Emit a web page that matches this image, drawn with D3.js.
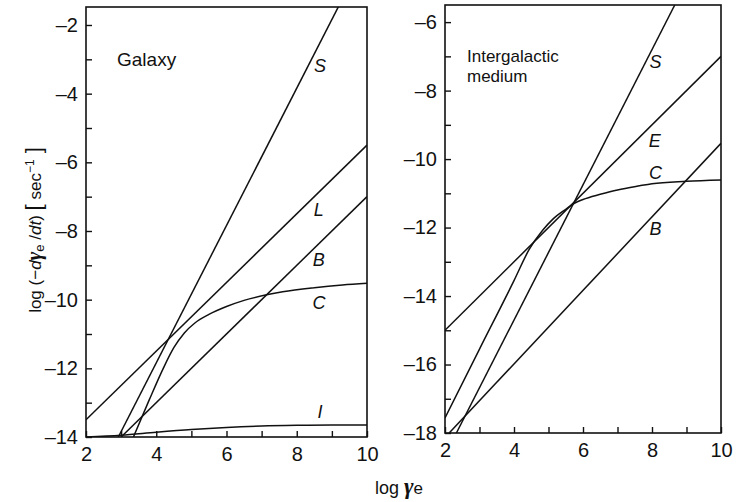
<!DOCTYPE html>
<html>
<head>
<meta charset="utf-8">
<script src="https://cdn.jsdelivr.net/npm/d3@7"></script>
<style>
  body { margin: 0; background: #fff; }
  svg { display: block; }
  text { font-family: "Liberation Sans", Arial, sans-serif; fill: #111; }
</style>
</head>
<body>
<svg id="chart" width="737" height="502"></svg>
<script>
// tick values
const xTicks = [2, 4, 6, 8, 10];
const xMinorTicks = [3, 5, 7, 9];
const galaxyYTicks = [-14, -12, -10, -8, -6, -4, -2];
const galaxyYMinor = [-13, -11, -9, -7, -5, -3];
const igmYTicks = [-18, -16, -14, -12, -10, -8, -6];
const igmYMinor = [-17, -15, -13, -11, -9, -7];

// Galaxy curves (log gamma, log rate)
const galaxyS = [[2.92, -14], [9.2, -1.44]];
const galaxyL = [[2, -13.5], [10, -5.5]];
const galaxyB = [[3, -14], [10, -7]];
const galaxyC = [[3.35, -14], [3.8, -12.92], [4.2, -12.0], [4.5, -11.4], [4.8, -10.97],
  [5.1, -10.68], [5.5, -10.43], [6.0, -10.2], [6.5, -10.02], [7.14, -9.86],
  [7.6, -9.77], [8.5, -9.65], [9.3, -9.57], [10, -9.52]];
const galaxyI = [[2, -14], [3, -13.95], [4, -13.86], [5, -13.78], [6, -13.72],
  [7, -13.68], [8, -13.66], [9, -13.65], [10, -13.65]];

// Intergalactic medium curves
const igmS = [[2.33, -18], [8.66, -5.5]];
const igmE = [[2, -15], [10, -7]];
const igmB = [[2.12, -18], [10, -9.54]];
const igmC = [[2, -17.56], [3, -15.55], [4, -13.55], [4.44, -12.64], [4.83, -12.08],
  [5.12, -11.76], [5.51, -11.46], [5.75, -11.29], [6.0, -11.18], [6.5, -11.03],
  [7, -10.9], [7.64, -10.78], [8, -10.72], [9, -10.65], [10, -10.61]];

const galaxyLabels = [
  { t: 'S', x: 8.66, y: -3.19 }, { t: 'L', x: 8.63, y: -7.36 },
  { t: 'B', x: 8.63, y: -8.82 }, { t: 'C', x: 8.63, y: -10.07 },
  { t: 'I', x: 8.66, y: -13.27 }
];
const igmLabels = [
  { t: 'S', x: 8.1, y: -7.14 }, { t: 'E', x: 8.08, y: -9.47 },
  { t: 'C', x: 8.1, y: -10.38 }, { t: 'B', x: 8.1, y: -12.04 }
];

const svg = d3.select('#chart');

function panel(opts) {
  const x = d3.scaleLinear().domain([2, 10]).range([opts.left, opts.right]);
  const y = d3.scaleLinear().domain(opts.yDomain).range([opts.bottom, opts.top]);
  const g = svg.append('g');

  g.append('clipPath').attr('id', opts.id)
    .append('rect')
    .attr('x', opts.left).attr('y', opts.top)
    .attr('width', opts.right - opts.left).attr('height', opts.bottom - opts.top);

  const line = d3.line().x(d => x(d[0])).y(d => y(d[1])).curve(d3.curveMonotoneX);
  const plot = g.append('g').attr('clip-path', `url(#${opts.id})`);
  opts.curves.forEach(c => {
    plot.append('path')
      .attr('d', line(c))
      .attr('fill', 'none')
      .attr('stroke', '#111')
      .attr('stroke-width', 1.5);
  });

  // frame
  g.append('rect')
    .attr('x', opts.left).attr('y', opts.top)
    .attr('width', opts.right - opts.left).attr('height', opts.bottom - opts.top)
    .attr('fill', 'none').attr('stroke', '#111').attr('stroke-width', 1.6);

  // axes with inward ticks
  const xAxis = d3.axisBottom(x).tickValues(xTicks.concat(xMinorTicks))
    .tickSize(-6).tickPadding(10)
    .tickFormat(d => xTicks.includes(d) ? d : '');
  const gx = g.append('g').attr('transform', `translate(0,${opts.bottom})`).call(xAxis);

  const yAxis = d3.axisLeft(y).tickValues(opts.yTicks.concat(opts.yMinor))
    .tickSize(-6).tickPadding(8)
    .tickFormat(d => opts.yTicks.includes(d) ? (d < 0 ? '\u2013' + Math.abs(d) : d) : '');
  const gy = g.append('g').attr('transform', `translate(${opts.left},0)`).call(yAxis);

  [gx, gy].forEach(a => {
    a.select('.domain').remove();
    a.selectAll('line').attr('stroke', '#111').attr('stroke-width', 1.4);
    a.selectAll('text').style('font-size', '20px')
      .style('font-family', '"Liberation Sans", Arial, sans-serif').attr('fill', '#111');
  });

  g.selectAll('text.curve-label')
    .data(opts.labels)
    .join('text')
    .attr('class', 'curve-label')
    .attr('x', d => x(d.x))
    .attr('y', d => y(d.y))
    .attr('text-anchor', 'middle')
    .attr('dy', '0.36em')
    .style('font-size', '18px')
    .style('font-style', 'italic')
    .text(d => d.t);

  return { x, y, g };
}

const left = panel({
  id: 'clipGalaxy', left: 86, right: 367, top: 7, bottom: 437,
  yDomain: [-14, -1.476], yTicks: galaxyYTicks, yMinor: galaxyYMinor,
  curves: [galaxyS, galaxyL, galaxyB, galaxyC, galaxyI], labels: galaxyLabels
});

const right = panel({
  id: 'clipIgm', left: 445, right: 721, top: 5, bottom: 433,
  yDomain: [-18, -5.5], yTicks: igmYTicks, yMinor: igmYMinor,
  curves: [igmS, igmE, igmB, igmC], labels: igmLabels
});

left.g.append('text').attr('x', 117).attr('y', 66)
  .style('font-size', '19px').text('Galaxy');

right.g.append('text').attr('x', 467).attr('y', 62)
  .style('font-size', '17px').text('Intergalactic');
right.g.append('text').attr('x', 467).attr('y', 82)
  .style('font-size', '17px').text('medium');

// y axis label
const yl = svg.append('text')
  .attr('transform', 'translate(41,230) rotate(-90)')
  .attr('text-anchor', 'middle')
  .style('font-size', '17px');
yl.append('tspan').text('log (\u2212');
yl.append('tspan').style('font-style', 'italic').text('d');
yl.append('tspan').style('font-style', 'italic').style('font-weight', 'bold')
  .style('font-family', '"Liberation Serif", serif').style('font-size', '21px').text('\u03b3');
yl.append('tspan').attr('dy', 3).style('font-size', '13px').text('e');
yl.append('tspan').attr('dy', -3).text(' /');
yl.append('tspan').style('font-style', 'italic').text('dt');
yl.append('tspan').text(')  ');
yl.append('tspan').style('font-size', '22px').text('[');
yl.append('tspan').text(' sec');
yl.append('tspan').attr('dy', -7).style('font-size', '12px').text('\u22121');
yl.append('tspan').attr('dy', 7).style('font-size', '22px').text(' ]');

// x axis label
const xl = svg.append('text')
  .attr('x', 399).attr('y', 494)
  .attr('text-anchor', 'middle')
  .style('font-size', '18px');
xl.append('tspan').text('log ');
xl.append('tspan').style('font-style', 'italic').style('font-weight', 'bold')
  .style('font-family', '"Liberation Serif", serif').style('font-size', '23px').text('\u03b3');
xl.append('tspan').style('font-size', '17px').text('e');
</script>
</body>
</html>
